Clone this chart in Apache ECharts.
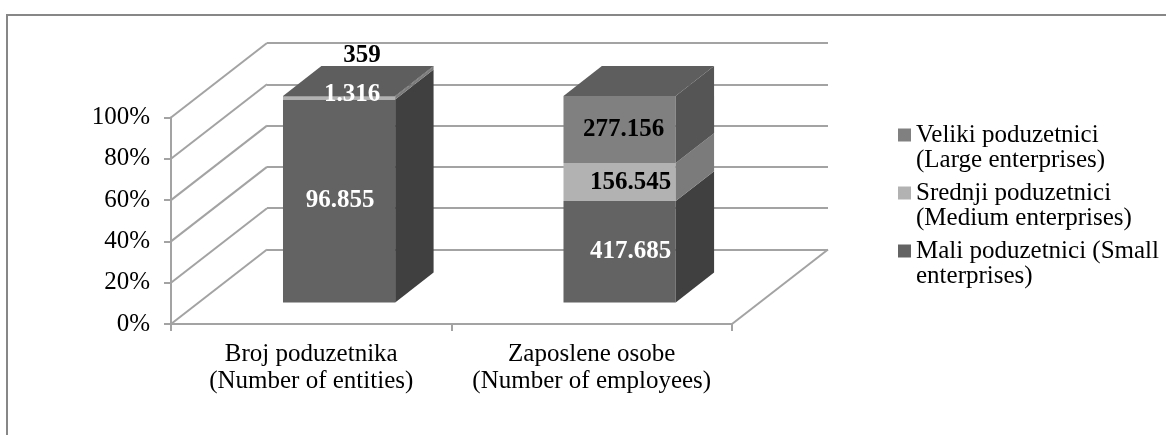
<!DOCTYPE html>
<html>
<head>
<meta charset="utf-8">
<script src="https://cdn.jsdelivr.net/npm/echarts@6.0.0/dist/echarts.min.js"></script>
<style>
  html, body { margin: 0; padding: 0; background: #fff; }
  #chart { width: 1166px; height: 435px; }
</style>
</head>
<body>
<div id="chart"></div>
<script>
// data
const categories = ['Broj poduzetnika\n(Number of entities)', 'Zaposlene osobe\n(Number of employees)'];
const maliValues = [96855, 417685];
const srednjiValues = [1316, 156545];
const velikiValues = [359, 277156];
const yTicks = [0, 20, 40, 60, 80, 100];

const seriesNames = {
    mali: 'Mali poduzetnici (Small\nenterprises)',
    srednji: 'Srednji poduzetnici\n(Medium enterprises)',
    veliki: 'Veliki poduzetnici\n(Large enterprises)'
};

// fake 3d projection (depth direction on screen)
const DX = 96, DY = -74.5;
const BAR_FRONT = 0.29, BAR_DEPTH = 0.4, BAR_WIDTH = 0.4;
const FONT = '"Liberation Serif", "Times New Roman", serif';
const LINE = '#a3a3a3';

const totals = categories.map((c, i) => maliValues[i] + srednjiValues[i] + velikiValues[i]);

function fmt(v) {
    return String(v).replace(/\B(?=(\d{3})+(?!\d))/g, '.');
}

// stack -> [cat, from%, to%, raw]
function stackRows(values, below) {
    return values.map((v, i) => {
        const base = below.reduce((s, arr) => s + arr[i], 0);
        return [i, base / totals[i] * 100, (base + v) / totals[i] * 100, v];
    });
}

function makeBarSeries(name, rows, faces, labelColors, labelOffsets, isTop) {
    return {
        name: name,
        type: 'custom',
        z: 3,
        clip: false,
        itemStyle: { color: faces.front },
        encode: { x: 0, y: 2 },
        data: rows,
        renderItem(params, api) {
            const cat = api.value(0);
            const band = api.size([1, 0])[0];
            const w = band * BAR_WIDTH;
            const p0 = api.coord([cat, api.value(1)]);
            const p1 = api.coord([cat, api.value(2)]);
            const ox = DX * BAR_FRONT, oy = DY * BAR_FRONT;
            const dx = DX * BAR_DEPTH, dy = DY * BAR_DEPTH;
            const xl = p0[0] - w / 2 + ox, xr = xl + w;
            const yb = p0[1] + oy, yt = p1[1] + oy;
            const children = [
                { type: 'rect', shape: { x: xl, y: yt, width: w, height: yb - yt },
                  style: { fill: faces.front } },
                { type: 'polygon', shape: { points: [[xr, yt], [xr + dx, yt + dy], [xr + dx, yb + dy], [xr, yb]] },
                  style: { fill: faces.side } }
            ];
            if (isTop) {
                children.push({ type: 'polygon',
                    shape: { points: [[xl, yt], [xl + dx, yt + dy], [xr + dx, yt + dy], [xr, yt]] },
                    style: { fill: faces.top } });
            }
            const off = labelOffsets[cat];
            children.push({
                type: 'text', z2: 100,
                style: {
                    text: fmt(api.value(3)),
                    x: (xl + xr) / 2 + off[0], y: (yt + yb) / 2 + off[1],
                    fill: labelColors[cat], font: 'bold 25px ' + FONT,
                    align: 'center', verticalAlign: 'middle'
                }
            });
            return { type: 'group', children: children };
        }
    };
}

const maliRows = stackRows(maliValues, []);
const srednjiRows = stackRows(srednjiValues, [maliValues]);
const velikiRows = stackRows(velikiValues, [maliValues, srednjiValues]);

const chart = echarts.init(document.getElementById('chart'));

chart.setOption({
    animation: false,
    backgroundColor: '#fff',
    graphic: [{
        type: 'rect', silent: true,
        shape: { x: 7, y: 15, width: 1300, height: 600 },
        style: { fill: 'none', stroke: '#878787', lineWidth: 2 }
    }],
    legend: {
        orient: 'vertical',
        left: 893, top: 117.5,
        itemWidth: 13, itemHeight: 50, itemGap: 8,
        icon: 'path://M0,0M0,6L13,6L13,19L0,19ZM13,50',
        data: [seriesNames.veliki, seriesNames.srednji, seriesNames.mali],
        textStyle: { fontFamily: FONT, fontSize: 25, lineHeight: 25, color: '#000' }
    },
    grid: [
        { left: 171, top: 117.5, width: 561, height: 206.5 },
        { left: 171 + DX, top: 117.5 + DY, width: 561, height: 206.5 }
    ],
    xAxis: [{
        type: 'category', gridIndex: 0, data: categories,
        axisLine: { lineStyle: { color: LINE, width: 2 } },
        axisTick: { show: true, length: 7, alignWithLabel: false, lineStyle: { color: LINE, width: 2 } },
        axisLabel: { interval: 0, margin: 17, fontFamily: FONT, fontSize: 25, lineHeight: 27, color: '#000' },
        splitLine: { show: false }
    }, {
        type: 'category', gridIndex: 1, data: categories, show: false
    }],
    yAxis: [{
        type: 'value', gridIndex: 0, min: 0, max: 100, interval: 20,
        axisLine: { show: true, lineStyle: { color: LINE, width: 2 } },
        axisTick: { show: true, length: 7, lineStyle: { color: LINE, width: 2 } },
        axisLabel: { formatter: '{value}%', margin: 21, fontFamily: FONT, fontSize: 25, color: '#000' },
        splitLine: { show: false }
    }, {
        type: 'value', gridIndex: 1, min: 0, max: 100, interval: 20,
        axisLine: { show: false }, axisTick: { show: false }, axisLabel: { show: false },
        splitLine: { show: true, lineStyle: { color: LINE, width: 2 } }
    }],
    series: [
        {
            // side walls: diagonals from the front axis to the back wall
            type: 'custom', z: 1, clip: false, silent: true,
            data: yTicks.map(v => [0, v]),
            encode: { x: 0, y: 1 },
            renderItem(params, api) {
                const cs = params.coordSys;
                const y = api.coord([0, api.value(1)])[1];
                const children = [{ type: 'line',
                    shape: { x1: cs.x, y1: y, x2: cs.x + DX, y2: y + DY },
                    style: { stroke: LINE, lineWidth: 2 } }];
                if (api.value(1) === 0) {
                    children.push({ type: 'line',
                        shape: { x1: cs.x + cs.width, y1: y, x2: cs.x + cs.width + DX, y2: y + DY },
                        style: { stroke: LINE, lineWidth: 2 } });
                }
                return { type: 'group', children: children };
            }
        },
        makeBarSeries(seriesNames.mali, maliRows,
            { front: '#636363', side: '#404040' },
            ['#fff', '#fff'], [[1, 0], [11, 0]], false),
        makeBarSeries(seriesNames.srednji, srednjiRows,
            { front: '#b2b2b2', side: '#7b7b7b' },
            ['#fff', '#000'], [[13, -3], [11, 0]], false),
        makeBarSeries(seriesNames.veliki, velikiRows,
            { front: '#808080', side: '#555555', top: '#5e5e5e' },
            ['#000', '#000'], [[23, -41], [4, 0]], true)
    ]
});
</script>
</body>
</html>
